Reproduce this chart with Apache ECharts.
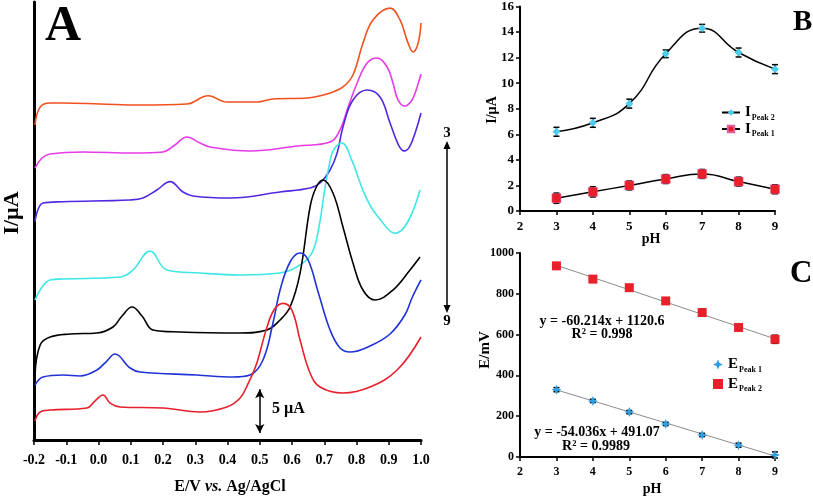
<!DOCTYPE html>
<html>
<head>
<meta charset="utf-8">
<script src="https://cdn.jsdelivr.net/npm/echarts/dist/echarts.min.js"></script>
<style>html,body{margin:0;padding:0;background:#fff;}#c{width:813px;height:497px;}</style>
</head>
<body>
<div id="c"></div>
<script>
// ---------- Panel A: DPV curves [E (V), I (µA, offset)] ----------
const pH3 = [[-0.197,35.96],[-0.181,38.0],[-0.150,38.47],[-0.110,38.47],[0.005,38.36],[0.129,38.24],[0.274,38.36],[0.340,39.3],[0.398,38.58],[0.491,38.58],[0.541,38.93],[0.647,39.04],[0.718,39.61],[0.758,40.3],[0.789,41.67],[0.820,45.3],[0.851,47.95],[0.904,49.3],[0.935,47.95],[0.960,45.3],[0.975,44.3],[0.991,45.3],[1.0,47.6]];
const pH4 = [[-0.197,31.05],[-0.175,32.19],[-0.150,32.65],[-0.048,32.88],[0.107,32.76],[0.200,32.88],[0.237,33.68],[0.274,34.59],[0.315,33.9],[0.346,33.45],[0.470,32.99],[0.616,33.56],[0.718,34.02],[0.749,35.39],[0.774,38.01],[0.802,40.76],[0.833,43.04],[0.864,43.61],[0.895,42.58],[0.913,40.76],[0.929,38.81],[0.950,38.13],[0.972,38.81],[0.988,40.3],[1.0,41.78]];
const pH5 = [[-0.197,24.92],[-0.172,27.06],[-0.110,27.2],[0.098,27.4],[0.138,27.63],[0.181,28.54],[0.222,29.49],[0.262,28.31],[0.293,27.86],[0.408,27.63],[0.563,28.31],[0.656,28.77],[0.687,29.34],[0.718,30.82],[0.740,32.76],[0.758,35.73],[0.789,38.81],[0.833,39.95],[0.873,39.16],[0.904,36.19],[0.930,33.7],[0.948,33.0],[0.965,33.5],[0.983,35.2],[1.0,37.33]];
const pH6 = [[-0.197,15.98],[-0.175,17.47],[-0.150,18.27],[-0.110,18.38],[0.067,18.61],[0.107,19.41],[0.160,21.58],[0.212,19.41],[0.315,19.06],[0.439,18.84],[0.563,19.06],[0.634,20.21],[0.665,21.6],[0.684,24.4],[0.700,28.2],[0.715,31.3],[0.730,33.2],[0.755,33.9],[0.787,31.8],[0.805,30.0],[0.820,28.5],[0.845,26.6],[0.873,25.2],[0.900,24.0],[0.919,23.6],[0.957,24.77],[0.997,28.54]];
const pH7 = [[-0.197,7.42],[-0.181,10.85],[-0.150,11.76],[-0.088,12.1],[-0.005,12.22],[0.045,12.9],[0.073,14.16],[0.104,15.18],[0.135,14.16],[0.169,12.56],[0.253,12.33],[0.439,12.22],[0.522,12.56],[0.563,13.7],[0.594,15.18],[0.625,19.06],[0.656,26.6],[0.674,28.77],[0.696,29.68],[0.727,28.2],[0.758,24.32],[0.789,20.21],[0.820,17.12],[0.857,15.98],[0.913,17.12],[0.966,19.41],[0.997,20.89]];
const pH8 = [[-0.197,6.28],[-0.172,7.19],[-0.110,7.42],[-0.057,7.31],[-0.005,7.99],[0.023,8.9],[0.051,9.82],[0.098,8.22],[0.129,7.76],[0.305,7.42],[0.417,7.19],[0.470,7.42],[0.510,9.13],[0.541,13.36],[0.563,17.12],[0.594,20.32],[0.625,21.35],[0.650,20.55],[0.681,16.9],[0.718,12.56],[0.749,10.5],[0.780,10.05],[0.842,10.73],[0.904,12.1],[0.950,14.27],[0.972,16.21],[1.0,18.27]];
const pH9 = [[-0.197,2.17],[-0.181,3.2],[-0.150,3.42],[-0.036,3.65],[-0.011,4.45],[0.014,5.14],[0.036,4.22],[0.067,3.77],[0.200,3.65],[0.315,3.2],[0.398,3.77],[0.439,4.79],[0.466,6.6],[0.491,8.8],[0.520,12.6],[0.545,14.9],[0.573,15.6],[0.600,14.8],[0.625,11.42],[0.656,7.65],[0.687,6.05],[0.758,5.37],[0.842,6.05],[0.926,7.99],[1.0,11.76]];
const curveNames = ['pH 3','pH 4','pH 5','pH 6','pH 7','pH 8','pH 9'];
const curveColors = ['#f0521f','#e63be6','#5229e3','#3fe6e6','#000000','#1f33d6','#e8202c'];
const curves = [pH3,pH4,pH5,pH6,pH7,pH8,pH9];
const scaleBarE = 0.5;
const scaleBarI = [0.8, 5.8];
const eTicks = [-0.2,1.0,0.1];

// ---------- Panel B ----------
const pHValues = [3,4,5,6,7,8,9];
const iPeak2 = [6.2, 6.9, 8.4, 12.3, 14.3, 12.4, 11.1];
const iPeak2Err = [0.35, 0.35, 0.35, 0.3, 0.3, 0.35, 0.35];
const iPeak1 = [1.0, 1.5, 2.0, 2.5, 2.9, 2.3, 1.7];
const iPeak1Err = [0.4, 0.4, 0.35, 0.35, 0.35, 0.35, 0.35];

// ---------- Panel C ----------
const ePeak1 = [330, 275, 220, 162, 108, 58, 10];
const ePeak1Err = [10, 8, 8, 8, 8, 10, 15];
const ePeak2 = [937, 872, 830, 765, 708, 635, 577];
const ePeak2Err = [10, 12, 14, 12, 18, 12, 20];
const fitPeak2 = [[3, 940], [9, 579]];
const fitPeak1 = [[3, 329], [9, 5]];

const FF = '"Liberation Serif","Times New Roman",serif';

function errSeries(xi, yi, vals, errs, name) {
  return {
    type: 'custom', name: name, xAxisIndex: xi, yAxisIndex: yi, silent: true, z: 2,
    data: pHValues.map((p, i) => [p, vals[i], errs[i]]),
    renderItem: function (params, api) {
      const x = api.value(0), y = api.value(1), e = api.value(2);
      const t = api.coord([x, y + e]), b = api.coord([x, y - e]);
      const w = 3;
      const st = { stroke: '#000', lineWidth: 1.5 };
      return { type: 'group', children: [
        { type: 'line', shape: { x1: t[0], y1: t[1], x2: b[0], y2: b[1] }, style: st },
        { type: 'line', shape: { x1: t[0] - w, y1: t[1], x2: t[0] + w, y2: t[1] }, style: st },
        { type: 'line', shape: { x1: b[0] - w, y1: b[1], x2: b[0] + w, y2: b[1] }, style: st }
      ]};
    }
  };
}

const smallAxisLabel = (sz) => ({ color: '#000', fontFamily: FF, fontWeight: 'bold', fontSize: sz });

const series = [];
curves.forEach((c, i) => {
  const s = {
    type: 'line', name: curveNames[i], xAxisIndex: 0, yAxisIndex: 0,
    data: c, smooth: 0.4, showSymbol: false, symbol: 'none',
    lineStyle: { color: curveColors[i], width: 1.6 }, silent: true
  };
  if (i === 6) {
    s.markLine = {
      silent: true, symbol: ['arrow', 'arrow'], symbolSize: [7, 9],
      lineStyle: { color: '#000', width: 1.5, type: 'solid' }, label: { show: false },
      data: [[{ coord: [scaleBarE, scaleBarI[0]] }, { coord: [scaleBarE, scaleBarI[1]] }]]
    };
  }
  series.push(s);
});

// Panel B
series.push({
  type: 'line', name: 'I_Peak 2', xAxisIndex: 1, yAxisIndex: 1,
  data: pHValues.map((p, i) => [p, iPeak2[i]]), smooth: 0.5,
  symbol: 'diamond', symbolSize: 8, lineStyle: { color: '#000', width: 1.5 },
  itemStyle: { color: '#4ccdee' }, z: 3
});
series.push({
  type: 'line', name: 'I_Peak 1', xAxisIndex: 1, yAxisIndex: 1,
  data: pHValues.map((p, i) => [p, iPeak1[i]]), smooth: 0.5,
  symbol: 'rect', symbolSize: 9, lineStyle: { color: '#000', width: 1.5 },
  itemStyle: { color: '#e8202a', borderColor: '#e060a0', borderWidth: 0.5 }, z: 3
});
series.push(errSeries(1, 1, iPeak2, iPeak2Err, 'errB2'));
series.push(errSeries(1, 1, iPeak1, iPeak1Err, 'errB1'));

// Panel C
series.push({ type: 'line', xAxisIndex: 2, yAxisIndex: 2, data: fitPeak2, symbol: 'none', silent: true,
  lineStyle: { color: '#8c8c8c', width: 1 }, z: 1 });
series.push({ type: 'line', xAxisIndex: 2, yAxisIndex: 2, data: fitPeak1, symbol: 'none', silent: true,
  lineStyle: { color: '#8c8c8c', width: 1 }, z: 1 });
series.push(errSeries(2, 2, ePeak1, ePeak1Err, 'errC1'));
series.push(errSeries(2, 2, ePeak2, ePeak2Err, 'errC2'));
series.push({ type: 'scatter', name: 'E_Peak 1', xAxisIndex: 2, yAxisIndex: 2,
  data: pHValues.map((p, i) => [p, ePeak1[i]]),
  symbol: 'path://M0,-10 L3,-3 L10,0 L3,3 L0,10 L-3,3 L-10,0 L-3,-3 Z', symbolSize: 10,
  itemStyle: { color: '#2f9fe0', opacity: 1 }, z: 3 });
series.push({ type: 'scatter', name: 'E_Peak 2', xAxisIndex: 2, yAxisIndex: 2,
  data: pHValues.map((p, i) => [p, ePeak2[i]]), symbol: 'rect', symbolSize: 9,
  itemStyle: { color: '#e8202a', opacity: 1 }, z: 3 });

const legendRich = {
  m: { fontFamily: FF, fontWeight: 'bold', fontSize: 15, color: '#000', lineHeight: 18 },
  s: { fontFamily: FF, fontWeight: 'bold', fontSize: 8, color: '#000', lineHeight: 18, verticalAlign: 'bottom', padding: [0, 0, 0, 1] }
};
const legendFmt = (n) => { const p = n.split('_'); return '{m|' + p[0] + '}{s|' + p[1] + '}'; };

const option = {
  animation: false,
  backgroundColor: '#fff',
  grid: [
    { left: 34, top: 2, width: 387, height: 438 },
    { left: 520, top: 6, width: 255, height: 205 },
    { left: 520, top: 253, width: 255, height: 204 }
  ],
  xAxis: [
    { type: 'value', gridIndex: 0, min: eTicks[0], max: eTicks[1], interval: eTicks[2],
      axisLine: { onZero: false, lineStyle: { color: '#000', width: 3 } },
      axisTick: { show: true, inside: false, length: 5, lineStyle: { color: '#000', width: 1.5 } },
      axisLabel: Object.assign(smallAxisLabel(14), { margin: 13, formatter: v => v.toFixed(1) }),
      splitLine: { show: false } },
    { type: 'value', gridIndex: 1, min: 2, max: 9, interval: 1,
      axisLine: { onZero: false, lineStyle: { color: '#000', width: 2 } },
      axisTick: { show: true, length: 4, lineStyle: { color: '#000', width: 1.5 } },
      axisLabel: Object.assign(smallAxisLabel(13), { margin: 9 }), splitLine: { show: false } },
    { type: 'value', gridIndex: 2, min: 2, max: 9, interval: 1,
      axisLine: { onZero: false, lineStyle: { color: '#000', width: 2 } },
      axisTick: { show: true, length: 4, lineStyle: { color: '#000', width: 1.5 } },
      axisLabel: Object.assign(smallAxisLabel(12), { margin: 9 }), splitLine: { show: false } }
  ],
  yAxis: [
    { type: 'value', gridIndex: 0, min: 0, max: 50,
      axisLine: { show: true, onZero: false, lineStyle: { color: '#000', width: 3 } },
      axisTick: { show: false }, axisLabel: { show: false }, splitLine: { show: false } },
    { type: 'value', gridIndex: 1, min: 0, max: 16, interval: 2,
      axisLine: { show: true, onZero: false, lineStyle: { color: '#000', width: 2 } },
      axisTick: { show: true, length: 4, lineStyle: { color: '#000', width: 1.5 } },
      axisLabel: Object.assign(smallAxisLabel(13), { margin: 6 }), splitLine: { show: false } },
    { type: 'value', gridIndex: 2, min: 0, max: 1000, interval: 200,
      axisLine: { show: true, onZero: false, lineStyle: { color: '#000', width: 2 } },
      axisTick: { show: true, length: 4, lineStyle: { color: '#000', width: 1.5 } },
      axisLabel: Object.assign(smallAxisLabel(12), { margin: 6, formatter: v => String(v) }), splitLine: { show: false } }
  ],
  legend: [
    { data: ['I_Peak 2', 'I_Peak 1'], orient: 'vertical', left: 721, top: 105, itemWidth: 18, itemHeight: 8,
      itemGap: 0, padding: 0, formatter: legendFmt, textStyle: { rich: legendRich }, selectedMode: false },
    { data: ['E_Peak 1', 'E_Peak 2'], orient: 'vertical', left: 713, top: 357, itemWidth: 10, itemHeight: 10,
      itemGap: 3, padding: 0, formatter: legendFmt, textStyle: { rich: legendRich }, selectedMode: false }
  ],
  graphic: [
    { type: 'text', x: 45, y: 27, style: { text: 'A', font: 'bold 50px ' + FF, fill: '#000', verticalAlign: 'middle' } },
    { type: 'text', x: 793, y: 23, style: { text: 'B', font: 'bold 29px ' + FF, fill: '#000', verticalAlign: 'middle' } },
    { type: 'text', x: 790, y: 274, style: { text: 'C', font: 'bold 31px ' + FF, fill: '#000', verticalAlign: 'middle' } },
    { type: 'text', x: 12, y: 213, rotation: Math.PI / 2, style: { text: 'I/µA', font: 'bold 22px ' + FF, fill: '#000', align: 'center', verticalAlign: 'middle' } },
    { type: 'text', x: 492, y: 110, rotation: Math.PI / 2, style: { text: 'I/µA', font: 'bold 14px ' + FF, fill: '#000', align: 'center', verticalAlign: 'middle' } },
    { type: 'text', x: 485, y: 350, rotation: Math.PI / 2, style: { text: 'E/mV', font: 'bold 15px ' + FF, fill: '#000', align: 'center', verticalAlign: 'middle' } },
    { type: 'text', x: 651, y: 239, style: { text: 'pH', font: 'bold 14px ' + FF, fill: '#000', align: 'center', verticalAlign: 'middle' } },
    { type: 'text', x: 652, y: 489, style: { text: 'pH', font: 'bold 14px ' + FF, fill: '#000', align: 'center', verticalAlign: 'middle' } },
    { type: 'text', x: 230, y: 487, style: { text: '{b|E/V }{i|vs.}{b| Ag/AgCl}', align: 'center', verticalAlign: 'middle',
        rich: { b: { font: 'bold 16px ' + FF, fill: '#000' }, i: { font: 'italic bold 16px ' + FF, fill: '#000' } } } },
    { type: 'text', x: 272, y: 409, style: { text: '5 µA', font: 'bold 16px ' + FF, fill: '#000', verticalAlign: 'middle' } },
    { type: 'text', x: 447, y: 133, style: { text: '3', font: 'bold 15px ' + FF, fill: '#000', align: 'center', verticalAlign: 'middle' } },
    { type: 'text', x: 447, y: 321, style: { text: '9', font: 'bold 15px ' + FF, fill: '#000', align: 'center', verticalAlign: 'middle' } },
    { type: 'line', shape: { x1: 447, y1: 146, x2: 447, y2: 308 }, style: { stroke: '#000', lineWidth: 1.5 } },
    { type: 'polygon', shape: { points: [[447, 141], [443.5, 149], [450.5, 149]] }, style: { fill: '#000' } },
    { type: 'polygon', shape: { points: [[447, 313], [443.5, 305], [450.5, 305]] }, style: { fill: '#000' } },
    { type: 'text', x: 602, y: 321, style: { text: 'y = -60.214x + 1120.6', font: 'bold 14px ' + FF, fill: '#000', align: 'center', verticalAlign: 'middle' } },
    { type: 'text', x: 602, y: 334, style: { text: 'R² = 0.998', font: 'bold 14px ' + FF, fill: '#000', align: 'center', verticalAlign: 'middle' } },
    { type: 'text', x: 597, y: 432, style: { text: 'y = -54.036x + 491.07', font: 'bold 14px ' + FF, fill: '#000', align: 'center', verticalAlign: 'middle' } },
    { type: 'text', x: 596, y: 446, style: { text: 'R² = 0.9989', font: 'bold 14px ' + FF, fill: '#000', align: 'center', verticalAlign: 'middle' } }
  ],
  series: series
};

const chart = echarts.init(document.getElementById('c'), null, { renderer: 'canvas' });
chart.setOption(option);
</script>
</body>
</html>
